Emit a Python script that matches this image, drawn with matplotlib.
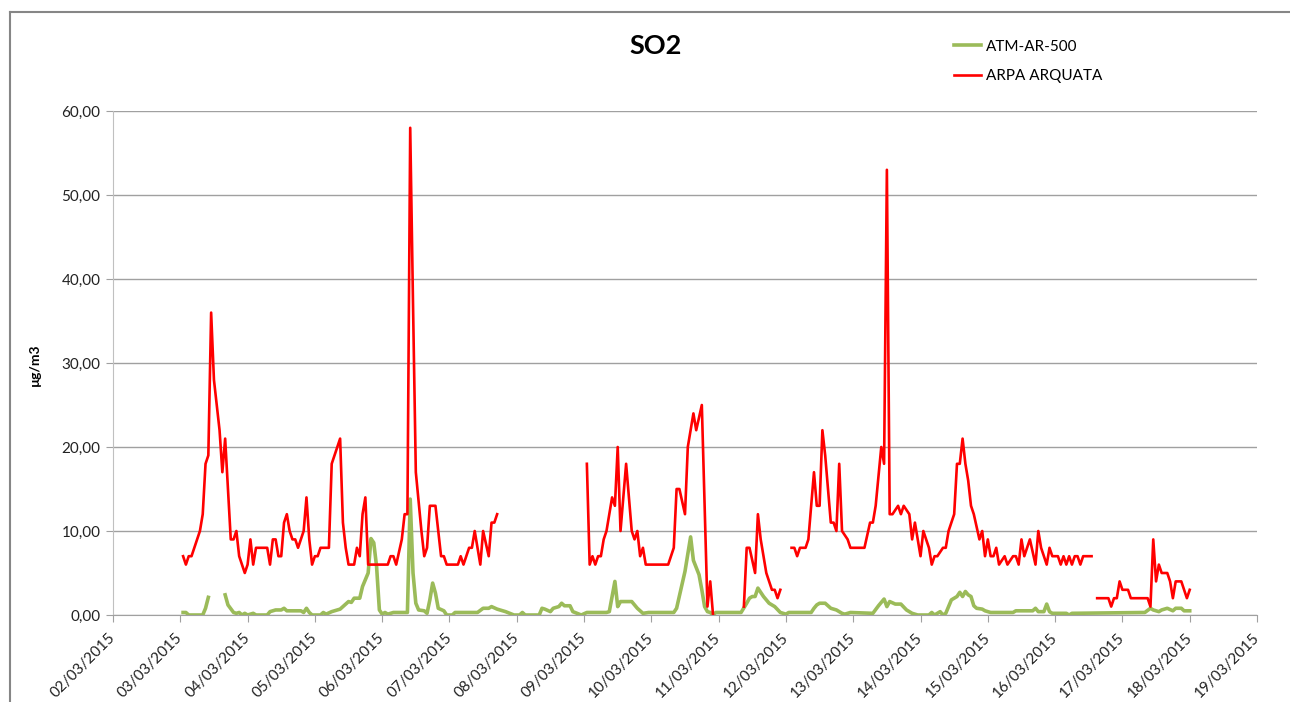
import numpy as np
import pandas as pd
import matplotlib
matplotlib.use("Agg")
import matplotlib.pyplot as plt
import matplotlib.dates as mdates
from matplotlib.ticker import FuncFormatter, MultipleLocator
from matplotlib.lines import Line2D

plt.rcParams['font.family'] = ['Lato', 'DejaVu Sans']

# hourly readings, hour counted from 03/03/2015 00:00 (nan = missing data)
start = pd.Timestamp("2015-03-03 00:00")

arpa = [
    (1, 7), (2, 6), (3, 7), (4, 7), (5, 8), (6, 9), (7, 10), (8, 12), (9, 18), (10, 19),
    (11, 36), (12, 28), (13, 25), (14, 22), (15, 17), (16, 21), (17, 15), (18, 9), (19, 9),
    (20, 10), (21, 7), (22, 6), (23, 5), (24, 6), (25, 9), (26, 6), (27, 8), (31, 8), (32, 6),
    (33, 9), (34, 9), (35, 7), (36, 7), (37, 11), (38, 12), (39, 10), (40, 9), (41, 9), (42, 8),
    (44, 10), (45, 14), (46, 9), (47, 6), (48, 7), (49, 7), (50, 8), (53, 8), (54, 18), (56, 20),
    (57, 21), (58, 11), (59, 8), (60, 6), (62, 6), (63, 8), (64, 7), (65, 12), (66, 14), (67, 6),
    (74, 6), (75, 7), (76, 7), (77, 6), (79, 9), (80, 12), (81, 12), (82, 58), (83, 37), (84, 17),
    (86, 10), (87, 7), (88, 8), (89, 13), (91, 13), (92, 10), (93, 7), (94, 7), (95, 6), (99, 6),
    (100, 7), (101, 6), (103, 8), (104, 8), (105, 10), (107, 6), (108, 10), (110, 7), (111, 11),
    (112, 11), (113, 12),
    (120, np.nan),
    (145, 18), (146, 6), (147, 7), (148, 6), (149, 7), (150, 7), (151, 9), (152, 10), (154, 14),
    (155, 13), (156, 20), (157, 10), (159, 18), (160, 14), (161, 10), (162, 9), (163, 10),
    (164, 7), (165, 8), (166, 6), (174, 6), (176, 8), (177, 15), (178, 15), (180, 12), (181, 20),
    (183, 24), (184, 22), (186, 25), (187, 13), (188, 1), (189, 4), (190, 0),
    (195, np.nan),
    (201, 1), (202, 8), (203, 8), (205, 5), (206, 12), (207, 9), (209, 5), (211, 3), (212, 3),
    (213, 2), (214, 3),
    (216, np.nan),
    (218, 8), (219, 8), (220, 7), (221, 8), (223, 8), (224, 9), (226, 17), (227, 13), (228, 13),
    (229, 22), (230, 19), (232, 11), (233, 11), (234, 10), (235, 18), (236, 10), (238, 9),
    (239, 8), (244, 8), (246, 11), (247, 11), (248, 13), (250, 20), (251, 18), (252, 53),
    (253, 12), (254, 12), (256, 13), (257, 12), (258, 13), (260, 12), (261, 9), (262, 11),
    (264, 7), (265, 10), (267, 8), (268, 6), (269, 7), (270, 7), (272, 8), (273, 8), (274, 10),
    (276, 12), (277, 18), (278, 18), (279, 21), (280, 18), (281, 16), (282, 13), (283, 12),
    (285, 9), (286, 10), (287, 7), (288, 9), (289, 7), (290, 7), (291, 8), (292, 6), (294, 7),
    (295, 6), (297, 7), (298, 7), (299, 6), (300, 9), (301, 7), (303, 9), (305, 6), (306, 10),
    (307, 8), (309, 6), (310, 8), (311, 7), (313, 7), (314, 6), (315, 7), (316, 6), (317, 7),
    (318, 6), (319, 7), (320, 7), (321, 6), (322, 7), (325, 7),
    (326, np.nan),
    (327, 2), (331, 2), (332, 1), (333, 2), (334, 2), (335, 4), (336, 3), (338, 3), (339, 2),
    (345, 2), (346, 1), (347, 9), (348, 4), (349, 6), (350, 5), (352, 5), (353, 4), (354, 2),
    (355, 4), (357, 4), (359, 2), (360, 3),
]

atm = [
    (1, 0.3), (2, 0.3), (3, 0), (8, 0), (9, 0.8), (10, 2.1),
    (12, np.nan),
    (16, 2.4), (17, 1.2), (19, 0.3), (20, 0.2), (21, 0.3), (22, 0), (23, 0.2), (24, 0), (26, 0.2),
    (27, 0), (31, 0), (32, 0.4), (34, 0.6), (36, 0.6), (37, 0.8), (38, 0.5), (43, 0.5), (44, 0.3),
    (45, 0.8), (46, 0.3), (47, 0), (50, 0), (51, 0.3), (52, 0.1), (54, 0.4), (56, 0.6), (57, 0.7),
    (58, 1.0), (60, 1.6), (61, 1.5), (62, 2.0), (64, 2.0), (65, 3.4), (67, 5.0), (68, 9.1),
    (69, 8.6), (70, 5.8), (71, 0.6), (72, 0.1), (73, 0.3), (74, 0.1), (76, 0.3), (81, 0.3),
    (82, 13.8), (83, 5.0), (84, 1.4), (85, 0.6), (87, 0.5), (88, 0.2), (89, 1.8), (90, 3.8),
    (91, 2.6), (92, 0.8), (94, 0.5), (95, 0), (97, 0), (98, 0.3), (106, 0.3), (108, 0.8),
    (110, 0.8), (111, 1.0), (113, 0.7), (114, 0.6), (116, 0.4), (119, 0), (121, 0), (122, 0.3),
    (123, 0), (128, 0), (129, 0.8), (130, 0.7), (132, 0.4), (133, 0.8), (135, 1.0), (136, 1.4),
    (137, 1.1), (139, 1.1), (140, 0.4), (143, 0), (145, 0.3), (152, 0.3), (153, 0.4), (155, 4.0),
    (156, 1.0), (157, 1.6), (161, 1.6), (163, 0.8), (165, 0.2), (167, 0.3), (176, 0.3),
    (177, 0.8), (180, 5.2), (182, 9.3), (183, 6.5), (185, 4.8), (186, 3.0), (187, 1.0),
    (188, 0.4), (189, 0.3), (190, 0), (191, 0.3), (200, 0.3), (202, 1.4), (203, 2.0), (204, 2.2),
    (205, 2.2), (206, 3.2), (208, 2.2), (210, 1.4), (212, 1.0), (214, 0.3), (216, 0.1),
    (217, 0.3), (225, 0.3), (226, 0.8), (227, 1.2), (228, 1.4), (230, 1.4), (232, 0.8),
    (234, 0.6), (236, 0.2), (237, 0.1), (239, 0.3), (247, 0.2), (249, 1.1), (251, 1.9),
    (252, 1.0), (253, 1.6), (255, 1.3), (257, 1.3), (259, 0.6), (261, 0.2), (263, 0), (267, 0),
    (268, 0.3), (269, 0), (271, 0.4), (272, 0), (273, 0.2), (275, 1.8), (276, 2.0), (277, 2.2),
    (278, 2.7), (279, 2.2), (280, 2.8), (281, 2.4), (282, 2.2), (283, 1.1), (284, 0.8),
    (286, 0.7), (287, 0.5), (289, 0.3), (297, 0.3), (298, 0.5), (304, 0.5), (305, 0.8),
    (306, 0.4), (308, 0.4), (309, 1.3), (310, 0.4), (311, 0.2), (316, 0.2), (317, 0), (318, 0.2),
    (344, 0.3), (346, 0.8), (347, 0.6), (349, 0.4), (350, 0.6), (352, 0.8), (354, 0.5),
    (355, 0.8), (357, 0.8), (358, 0.5), (360, 0.5),
]


def to_series(pairs):
    h, v = zip(*pairs)
    t = start + pd.to_timedelta(np.array(h), unit="h")
    return t, np.array(v, dtype=float)


fig = plt.figure(figsize=(12.9, 7.02), dpi=100)
ax = fig.add_axes([113 / 1290, 87 / 702, 1144 / 1290, 504 / 702])

t, v = to_series(atm)
ax.plot(t, v, color="#9BBB59", lw=2.6, label="ATM-AR-500", solid_joinstyle="round")
t, v = to_series(arpa)
ax.plot(t, v, color="#FF0000", lw=1.9, label="ARPA ARQUATA", solid_joinstyle="round")

ax.set_ylim(0, 60)
ax.yaxis.set_major_locator(MultipleLocator(10))
ax.yaxis.set_major_formatter(FuncFormatter(lambda y, p: f"{y:.2f}".replace(".", ",")))
ax.set_xlim(pd.Timestamp("2015-03-02"), pd.Timestamp("2015-03-19"))
ax.xaxis.set_major_locator(mdates.DayLocator())
ax.xaxis.set_major_formatter(mdates.DateFormatter("%d/%m/%Y"))

ax.grid(axis="y", color="#A0A0A0", lw=1)
ax.set_axisbelow(True)
for s in ["top", "right"]:
    ax.spines[s].set_visible(False)
ax.spines["left"].set_color("#C0C0C0")
ax.spines["bottom"].set_color("#A0A0A0")
ax.tick_params(axis="both", direction="out", length=5, color="#A0A0A0",
               labelsize=11, labelcolor="#222222")
ax.tick_params(axis="y", pad=4)
plt.setp(ax.get_xticklabels(), rotation=45, ha="right", rotation_mode="anchor", va="center")
ax.tick_params(axis="x", pad=10)

fig.text(656 / 1290, 1 - 46 / 702, "SO2", ha="center", va="center",
         fontsize=19.5, fontweight="bold")
fig.text(35 / 1290, 1 - 365 / 702, "µg/m3", ha="center", va="center",
         rotation=90, fontsize=10, fontweight="bold")

fig.legend(loc="upper left", bbox_to_anchor=(940 / 1290, 1 - 26 / 702), frameon=False,
           fontsize=11, handlelength=1.8, handletextpad=0.3, labelspacing=1.0)

# chart border
fig.add_artist(Line2D([10 / 1290, 10 / 1290], [0, 1 - 12 / 702], color="#868686", lw=1.5))
fig.add_artist(Line2D([10 / 1290, 1], [1 - 12 / 702, 1 - 12 / 702], color="#868686", lw=1.5))

fig.savefig("out.png", dpi=100)
